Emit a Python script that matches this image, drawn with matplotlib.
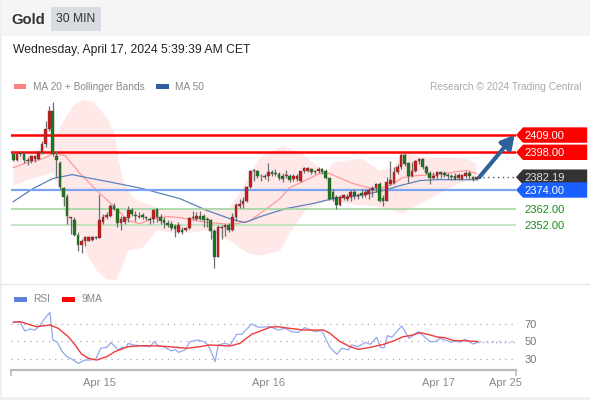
import matplotlib
matplotlib.use("Agg")
import matplotlib.pyplot as plt
from matplotlib.patches import Rectangle, Polygon

plt.rcParams['font.family'] = ['Liberation Sans', 'DejaVu Sans']

opens = [2397.0,2393.4,2397.0,2397.0,2393.4,2392.3,2393.8,2393.8,2398.0,2403.3,2412.9,2424.6,2395.9,2391.0,2375.1,2369.8,2356.2,2354.9,2345.6,2339.2,
 2341.3,2341.8,2342.2,2343.9,2343.5,2353.4,2357.0,2357.7,2364.0,2361.9,2352.8,2353.4,2356.2,2361.3,2358.3,2357.0,2358.3,2357.0,2355.6,2355.6,
 2361.9,2357.0,2354.9,2352.8,2352.4,2351.3,2347.1,2348.6,2348.8,2349.9,2356.2,2355.6,2357.7,2357.7,2355.6,2354.6,2348.2,2331.2,2349.9,2350.3,
 2351.8,2348.6,2357.1,2364.1,2365.2,2366.9,2376.2,2386.0,2386.0,2382.6,2382.1,2382.6,2385.5,2384.7,2384.3,2383.2,2382.8,2383.2,2381.1,2381.1,
 2380.0,2386.0,2386.0,2387.5,2385.3,2386.0,2387.5,2386.0,2381.7,2373.0,2369.8,2364.7,2368.8,2368.4,2369.4,2372.6,2370.0,
 2372.0,2370.5,2371.5,2373.7,2375.1,2377.9,2369.0,2367.3,2377.9,2378.3,2385.3,2388.5,2396.6,2391.1,2383.2,2386.4,2392.3,2393.8,2388.9,2384.9,
 2381.7,2383.2,2385.3,2384.7,2383.6,2383.2,2383.2,2381.7,2381.1,2383.2,2384.7,2382.1,2380.9]
closes = [2393.4,2397.0,2397.6,2393.4,2392.3,2395.5,2395.5,2398.0,2403.3,2412.9,2424.6,2397.0,2393.1,2375.7,2369.8,2357.7,2357.0,2345.6,2339.2,2341.8,
 2343.9,2343.9,2343.9,2343.5,2354.9,2357.0,2358.3,2364.0,2361.9,2352.8,2355.6,2356.6,2361.3,2358.7,2357.5,2357.7,2356.6,2356.0,2354.9,2361.3,
 2357.0,2354.1,2352.8,2351.7,2349.6,2349.2,2351.7,2347.1,2349.9,2356.2,2356.7,2357.7,2355.6,2355.0,2354.6,2348.2,2331.2,2350.3,2350.7,2351.4,
 2348.6,2357.1,2364.7,2365.2,2366.9,2376.2,2386.0,2386.0,2382.6,2382.6,2382.6,2385.5,2384.3,2384.3,2381.7,2381.1,2383.2,2380.5,2383.2,2383.2,
 2386.0,2388.1,2388.1,2385.3,2386.0,2387.5,2385.3,2381.5,2368.4,2368.4,2364.7,2369.8,2370.5,2369.8,2372.6,2370.0,2370.9,
 2370.5,2372.6,2374.1,2375.1,2377.9,2367.3,2367.3,2379.0,2380.4,2385.3,2388.5,2396.6,2390.6,2382.6,2386.4,2392.3,2393.8,2388.5,2384.9,2381.7,
 2383.2,2385.3,2384.3,2383.6,2382.6,2382.1,2381.1,2383.6,2383.6,2384.7,2382.6,2380.9,2382.19]
highs = [2399.1,2398.0,2399.1,2398.0,2395.3,2396.5,2396.5,2399.1,2405.5,2418.2,2427.7,2430.3,2398.7,2392.7,2375.7,2371.5,2357.0,2356.6,2347.0,2342.8,
 2344.9,2344.9,2344.9,2344.9,2371.5,2358.7,2359.8,2365.1,2365.5,2362.6,2357.7,2357.0,2364.0,2362.6,2360.4,2359.8,2359.2,2357.7,2357.0,2361.9,
 2362.6,2358.7,2357.0,2354.9,2354.1,2352.4,2353.4,2350.3,2350.7,2357.1,2360.9,2359.9,2360.9,2358.8,2356.7,2355.6,2349.2,2351.4,2351.8,2352.4,
 2352.9,2359.2,2365.6,2368.4,2369.8,2376.8,2386.8,2387.5,2386.8,2383.9,2383.9,2391.3,2386.8,2387.5,2385.3,2384.7,2386.8,2384.3,2384.3,2384.3,
 2386.4,2388.5,2388.5,2388.1,2386.8,2388.5,2388.1,2387.5,2382.1,2374.7,2370.5,2370.5,2371.5,2371.5,2374.1,2374.7,2372.0,
 2374.7,2374.7,2375.1,2376.8,2378.3,2379.0,2370.5,2382.1,2392.3,2388.5,2390.6,2397.4,2397.4,2391.7,2391.7,2393.2,2394.5,2394.5,2390.2,2385.9,
 2385.3,2386.4,2386.4,2385.9,2384.7,2384.3,2384.7,2384.7,2384.3,2385.9,2385.9,2383.2,2382.6]
lows = [2392.3,2392.7,2395.9,2391.0,2390.2,2391.2,2392.1,2393.1,2397.0,2401.2,2411.8,2395.9,2382.1,2374.7,2364.0,2352.4,2346.0,2345.0,2335.4,2333.7,
 2338.6,2341.3,2341.3,2342.8,2343.5,2352.4,2355.6,2357.0,2361.3,2350.3,2348.6,2352.4,2353.4,2357.7,2354.5,2356.2,2355.6,2354.9,2352.4,2352.8,
 2353.4,2352.4,2349.8,2350.7,2348.6,2344.3,2346.4,2346.1,2348.2,2349.2,2355.0,2354.6,2354.6,2350.3,2350.3,2342.9,2324.4,2331.2,2342.9,2345.0,
 2347.1,2348.2,2354.1,2362.6,2362.6,2366.2,2375.4,2380.0,2381.7,2379.6,2381.1,2380.0,2383.2,2383.2,2380.5,2379.0,2381.7,2379.0,2380.0,2380.0,
 2379.0,2384.7,2385.3,2384.3,2383.9,2384.7,2384.3,2381.1,2367.7,2367.3,2362.0,2364.1,2367.7,2367.3,2367.3,2368.4,2368.4,
 2369.0,2369.4,2368.3,2369.8,2372.6,2366.2,2363.5,2366.9,2377.3,2377.9,2384.3,2387.5,2389.6,2378.3,2382.1,2385.3,2390.6,2387.5,2384.3,2377.9,
 2381.1,2381.1,2381.7,2382.1,2381.1,2380.4,2380.4,2380.4,2380.4,2381.7,2381.1,2380.0,2380.4]

ma50_x = [0,5.5,11,16.4,20.5,27.8,36,46.4,54,61,64.5,69.6,76,83.5,89,96.6,103,107.7,113.3,118,129]
ma50_y = [2366.6,2374.9,2381.3,2383.8,2381.9,2378.7,2374.9,2368.5,2360.9,2355.2,2353.3,2357.7,2362.2,2365.4,2368.5,2370.5,2373.6,2376.8,2380,2380.6,2380.6]
ma20_x = [0,3.9,8.3,11,14.4,18.6,23.3,27.8,32,35.3,38.9,42.8,46.4,54,61,66,74.3,77,85.4,87.4,94.6,101,105,108.5,112.4,118,123.6,126.4,129]
ma20_y = [2388.3,2391.5,2394,2397.2,2395.9,2384.5,2373.6,2364.1,2354.5,2352.6,2355.8,2357.1,2356.4,2353.3,2352,2354.5,2368.5,2375.5,2384.5,2385.1,2378.1,2374.3,2376.8,2382,2383.2,2383.8,2385.7,2386.4,2384.5]
bb_up_x = [0,5,11,13,14.9,16.7,19.5,22.3,26,28.3,29.2,30.6,33.3,36,40,46.4,52,60,63,66.5,68.7,75,80,85.4,87.4,89,95,97,102,105.7,108.5,115,126,129]
bb_up_y = [2395.3,2397.2,2405.5,2414,2421.4,2427.8,2431.4,2429.9,2420.3,2410,2394.7,2380,2369.2,2366,2362.8,2361.5,2362.8,2362.2,2372,2386.4,2394.7,2402.3,2397.9,2387.7,2384.5,2391.5,2393.4,2394,2386.4,2388.3,2397.2,2394.7,2394,2390.8]
bb_lo_x = [0,5.5,8.3,11,13,15,18.6,20.4,23.2,26,28.8,30.2,32,36.2,40,46.4,54,60.3,65,68.7,74.3,78,81.8,87.4,96.6,100,108.5,115,124,129]
bb_lo_y = [2376.8,2381.3,2383.2,2385.1,2373.6,2352.6,2346.2,2333.5,2322.7,2316.9,2316.9,2324.6,2335.4,2337.3,2348.2,2346.2,2348.2,2341.8,2334.1,2332.2,2335.4,2350.1,2362.2,2367.3,2364.1,2364.1,2359,2367.3,2378.1,2380]

rsi_x = [0,1.9,3.2,4.7,6,7.4,8.8,10.2,11,12.3,13.5,14.9,16.2,18.1,20,21.4,23,24.3,26,27.2,29.3,30.2,31.4,32,33.4,35.3,38.1,39.2,40.4,41.8,44.1,45,46,47.8,49.2,51.5,53,54.3,56.2,57.1,59,60.4,62.2,63.6,66.4,68.2,71.5,73.8,75.7,77.5,79.4,81.2,84,85.9,88.2,90.1,91.5,93.3,94.2,96.1,98,99.4,101.2,102.3,103.3,104.2,105.4,108.2,110.2,112.8,116.1,117.5,118.9,122.1,123,124.4,125.8,128.1,129.3]
rsi_y = [71.9,71.9,62,64.3,63.1,68.1,76.5,83.3,51.7,49,39.1,32.6,30,25,28.8,28.8,30,42.2,43.3,48.7,40.3,43.3,43.3,47.9,46,45.2,44.1,49.8,44.8,44.1,39.1,41,37.6,40.3,49.8,51.7,49.8,46,27,46,47.9,46,58.2,58.2,70,66.2,66.9,63.1,65,61.2,60.5,65.8,61.2,62.4,43.3,35.3,42.2,40.3,46,44.1,49,46.7,54.8,43,43,56.7,54.8,67.7,53.6,61.2,49.8,49.8,53.6,49,51,49,52.5,47.1,49]
ma9_x = [0,1.9,4.2,6.5,10.2,12.5,15.3,17.2,19,20.9,23.2,26,28.3,32,36.2,40.8,45.5,48.3,52,54.8,60.4,63.1,66.4,71.5,73.4,77,80.8,86.4,88.2,91,93.8,96.1,99.4,103.1,105.9,108.6,110.5,113.3,116.1,118.4,120.2,122.6,125.4,129.3]
ma9_y = [71.9,72.7,69.6,66.9,68.8,65,55.5,46,35.7,30.8,28.8,32.6,38.4,44.1,45.2,44.8,43.3,42.2,44.1,46,44.8,47.9,58.2,66.2,67,65,63.1,63.1,59.3,49.8,44.1,41,43.3,46.7,50.6,55.5,56.7,60.1,57.4,54.8,54.4,51,51,49.8]

level_values = [2409.0, 2398.0, 2374.0, 2362.0, 2352.0]
last_price = 2382.19
date_ticks = [24.1, 71.1, 118.3, 137.1]
date_labels = ['Apr 15', 'Apr 16', 'Apr 17', 'Apr 25']
rsi_ticks = [30, 50, 70]

W, H = 590, 400
fig = plt.figure(figsize=(W/100, H/100), dpi=100, facecolor='white')

def pxrect(x0, y0, x1, y1):
    return [x0/W, 1-y1/H, (x1-x0)/W, (y1-y0)/H]

# page furniture in pixel space
bg = fig.add_axes([0, 0, 1, 1], zorder=0)
bg.set_xlim(0, W); bg.set_ylim(H, 0); bg.axis('off')
bg.add_patch(Rectangle((0, 0), 590, 36, fc='#f5f5f5', ec='none'))
bg.add_patch(Rectangle((0, 0), 1.5, 400, fc='#eef1f4', ec='none'))
bg.add_patch(Rectangle((0, 397), 590, 3, fc='#eef1f4', ec='none'))
bg.add_patch(Rectangle((51, 7), 50, 24, fc='#d8dbe2', ec='none'))
bg.plot([0, 590], [284, 284], color='#e8e8e8', lw=1)
bg.text(11, 19.5, 'Gold', fontsize=10.6, fontweight='bold', color='#333333', va='center')
bg.text(76, 19.5, '30 MIN', fontsize=8.7, color='#333333', va='center', ha='center')
bg.text(13, 49.5, 'Wednesday, April 17, 2024 5:39:39 AM CET', fontsize=8.7, color='#222222', va='center')
bg.add_patch(Rectangle((14, 84), 12, 5, fc='#ff8080', ec='none'))
bg.text(33, 87, 'MA 20 + Bollinger Bands', fontsize=7.25, color='#888888', va='center')
bg.add_patch(Rectangle((156, 84), 13, 5, fc='#2f5f9e', ec='none'))
bg.text(175, 87, 'MA 50', fontsize=7.25, color='#888888', va='center')
bg.text(581, 87, 'Research \u00a9 2024 Trading Central', fontsize=7.25, color='#aaaaaa', va='center', ha='right')
bg.add_patch(Rectangle((14, 297), 13, 4.5, fc='#6080e0', ec='none'))
bg.text(33, 299.5, 'RSI', fontsize=7.25, color='#888888', va='center')
bg.add_patch(Rectangle((62, 297), 13, 4.5, fc='#ff0000', ec='none'))
bg.text(82, 299.5, '9MA', fontsize=7.25, color='#888888', va='center')

# price panel
ax = fig.add_axes(pxrect(11, 60.6, 516, 283.6), zorder=1)
ax.patch.set_alpha(0)
ax.set_xlim(-0.64, 140.0)
ax.set_ylim(2314.4, 2456.4)
ax.axis('off')

ax.fill(bb_up_x + bb_lo_x[::-1], bb_up_y + bb_lo_y[::-1], color='#ffe8e8', lw=0, zorder=1)
ax.plot(ma20_x, ma20_y, color='#ff9a9a', lw=0.9, zorder=2)
ax.plot(ma50_x, ma50_y, color='#5b82bd', lw=0.9, zorder=2)

ax.axhline(level_values[0], color='#ff0000', lw=1.8, zorder=3)
ax.axhline(level_values[1], color='#ff0000', lw=1.8, zorder=3)
ax.axhline(level_values[2], color='#7da3f0', lw=1.6, zorder=3)
ax.axhline(level_values[3], color='#9ad69a', lw=1.1, zorder=3)
ax.axhline(level_values[4], color='#b5e0b5', lw=1.1, zorder=3)

for i, (o, h, l, c) in enumerate(zip(opens, highs, lows, closes)):
    up = c >= o
    col = '#d01818' if up else '#1a7a1a'
    ax.vlines(i, l, h, color='#6e6e6e', lw=0.9, zorder=4)
    ax.add_patch(Rectangle((i-0.37, min(o, c)), 0.74, max(abs(c-o), 0.6), fc=col, ec='#444444', lw=0.25, zorder=5))

# dotted last-price line and forecast arrow
ax.plot([129.5, 140], [last_price, last_price], color='#555555', lw=1, ls=(0, (1, 2.5)), zorder=3)
ax.annotate('', xy=(139.6, level_values[0]), xytext=(129.8, last_price),
            arrowprops=dict(arrowstyle='-|>,head_width=0.42,head_length=0.75', color='#2f6099', lw=3, shrinkA=0, shrinkB=0),
            zorder=6)

# price tags
tr = ax.get_yaxis_transform()
tags = [(level_values[0], '#ff0000', 'white'),
        (level_values[1], '#ff0000', 'white'),
        (last_price, '#333333', '#dddddd'),
        (level_values[2], '#1a5fff', 'white')]
hh = 4.9
dy = -0.7
for val, col, tc in tags:
    pts = [(1.0, val), (1.014, val+hh), (1.141, val+hh), (1.141, val-hh), (1.014, val-hh)]
    ax.add_patch(Polygon(pts, closed=True, fc=col, ec='none', transform=tr, clip_on=False, zorder=7))
    ax.text(1.0176, val+dy, f'{val:.2f}', transform=tr, color=tc, fontsize=8, va='center', ha='left', zorder=8)
for val in level_values[3:]:
    ax.text(1.0176, val+dy, f'{val:.2f}', transform=tr, color='#1a8a1a', fontsize=8, va='center')

# RSI panel
ax2 = fig.add_axes(pxrect(11, 300, 516, 370), zorder=1)
ax2.patch.set_alpha(0)
ax2.set_xlim(-0.64, 140.0)
ax2.set_ylim(17.4, 97.4)
for s in ['top', 'left', 'right']:
    ax2.spines[s].set_visible(False)
ax2.spines['bottom'].set_color('#bbbbbb')
ax2.spines['bottom'].set_linewidth(1.6)
for v in rsi_ticks:
    ax2.axhline(v, color='#aaaaaa', lw=0.9, ls=(0, (1, 4)), zorder=1)
ax2.plot([129.3, 140], [49.5, 49.5], color='#7f97e6', lw=0.9, ls=(0, (1, 2.5)), zorder=1)
ax2.plot(rsi_x, rsi_y, color='#92a9ec', lw=0.9, zorder=2)
ax2.plot(ma9_x, ma9_y, color='#f03a3a', lw=1.0, zorder=3)
ax2.set_xticks(date_ticks)
ax2.set_xticklabels(date_labels, fontsize=8, color='#888888')
ax2.tick_params(axis='x', length=0, pad=6)
ax2.yaxis.tick_right()
ax2.set_yticks(rsi_ticks)
ax2.set_yticklabels([str(v) for v in rsi_ticks], fontsize=8, color='#777777')
ax2.tick_params(axis='y', length=0, pad=6)
for xe in [-0.64, 140.0]:
    ax2.plot([xe, xe], [17.4, 12], color='#bbbbbb', lw=1.2, clip_on=False)

fig.savefig('out.png', dpi=100)
